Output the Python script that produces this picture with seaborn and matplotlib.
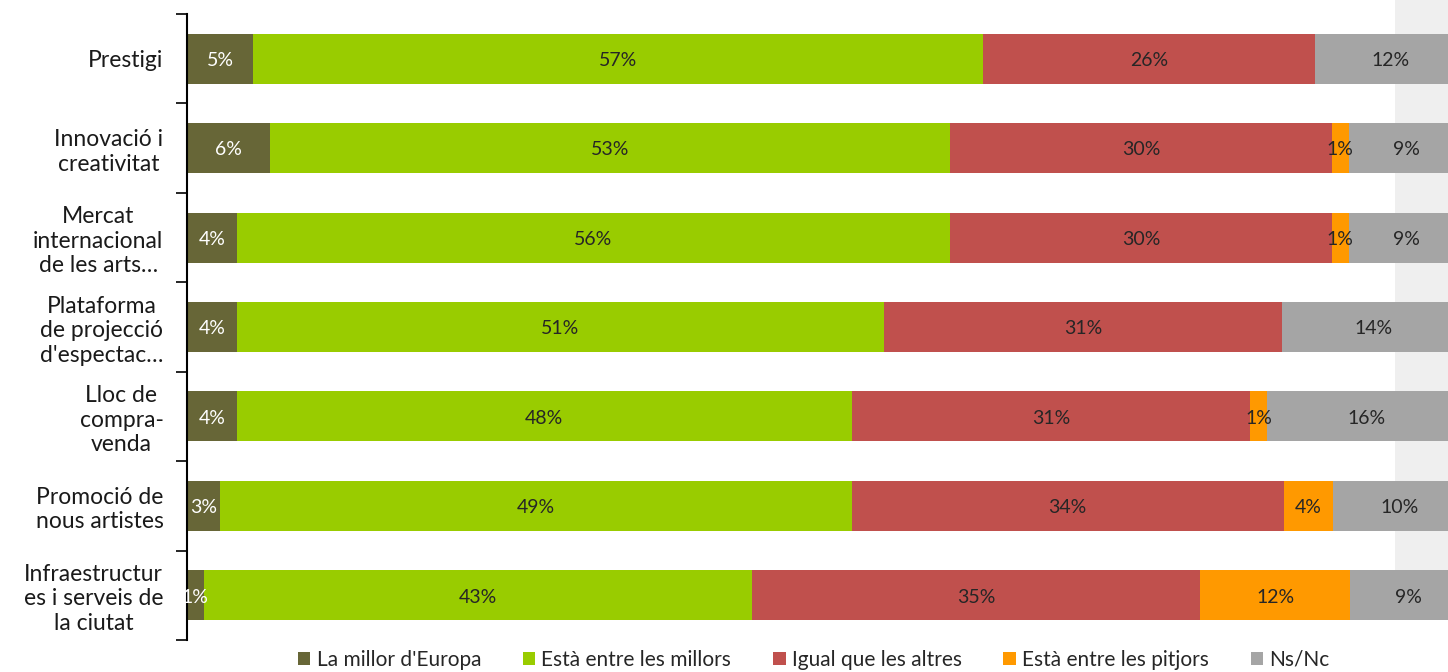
import numpy as np
import pandas as pd
import seaborn as sns
import matplotlib.pyplot as plt
from matplotlib.patches import Rectangle

# categories (top to bottom) and share of answers per series, in %
categories = ["Prestigi",
              "Innovació i\ncreativitat",
              "Mercat\ninternacional\nde les arts…",
              "Plataforma\nde projecció\nd'espectac…",
              "Lloc de\ncompra-\nvenda",
              "Promoció de\nnous artistes",
              "Infraestructur\nes i serveis de\nla ciutat"]
series = ["La millor d'Europa", "Està entre les millors", "Igual que les altres",
          "Està entre les pitjors", "Ns/Nc"]
la_millor = [5.2, 6.5, 3.9, 3.9, 3.9, 2.6, 1.3]
entre_millors = [57.1, 53.2, 55.8, 50.6, 48.1, 49.4, 42.9]
igual = [26.0, 29.9, 29.9, 31.2, 31.2, 33.8, 35.1]
entre_pitjors = [0, 1.3, 1.3, 0, 1.3, 3.9, 11.7]
ns_nc = [11.7, 9.1, 9.1, 14.3, 15.6, 10.4, 9.1]

colors = ["#676637", "#99cc00", "#c0504d", "#ff9900", "#a5a5a5"]
text_colors = ["white", "#262626", "#262626", "#262626", "#262626"]

df = pd.DataFrame({"cat": categories, series[0]: la_millor, series[1]: entre_millors,
                   series[2]: igual, series[3]: entre_pitjors, series[4]: ns_nc})
cum = df[series].cumsum(axis=1)

sns.set_style("white")
plt.rcParams["font.family"] = ["Lato", "DejaVu Sans"]

fig = plt.figure(figsize=(14.48, 6.72), dpi=100)
# light grey strip at the right edge (behind the bars)
fig.patches.append(Rectangle((1395 / 1448, 1 - 620 / 672), 1, 1, transform=fig.transFigure,
                             facecolor="#efefef", edgecolor="none", zorder=0))
ax = fig.add_axes([187 / 1448, 1 - 640 / 672, 1 - 187 / 1448, 626 / 672])
ax.patch.set_alpha(0)
ax.set_zorder(2)

# stacked bars: draw cumulative totals from the largest down
for i in range(len(series) - 1, -1, -1):
    sns.barplot(x=cum[series[i]], y=df["cat"], color=colors[i], saturation=1,
                width=0.56, orient="h", ax=ax, label=series[i], linewidth=0)

for i, s in enumerate(series):
    for j, v in enumerate(df[s]):
        if v <= 0:
            continue
        cx = cum[s].iloc[j] - v / 2
        ax.text(cx, j + 0.02, f"{v:.0f}%", ha="center", va="center", fontsize=14,
                color=text_colors[i])

ax.set_xlim(0, (1448 - 187) / 12.78)
ax.set_ylim(len(categories) - 0.5, -0.5)
ax.set_xlabel("")
ax.set_ylabel("")
ax.set_xticks([])
for sp in ["top", "right", "bottom"]:
    ax.spines[sp].set_visible(False)
ax.spines["left"].set_color("black")
ax.spines["left"].set_linewidth(1.5)
ax.set_yticks(range(len(categories)))
ax.set_yticklabels(categories, fontsize=16.5, multialignment="center", color="#1a1a1a")
ax.set_yticks(np.arange(-0.5, len(categories)), minor=True)
ax.tick_params(axis="y", which="major", length=0, pad=17)
ax.tick_params(axis="y", which="minor", length=8, width=1.2, color="black", left=True)

handles, labels = ax.get_legend_handles_labels()
if ax.get_legend() is not None:
    ax.get_legend().remove()
order = [labels.index(s) for s in series]
fig.legend([handles[k] for k in order], series, loc="center", ncol=5,
           bbox_to_anchor=(0.562, 0.018), frameon=False, fontsize=15,
           handlelength=0.6, handleheight=0.6, handletextpad=0.3, columnspacing=2.0)

fig.savefig("out.png", dpi=100)
